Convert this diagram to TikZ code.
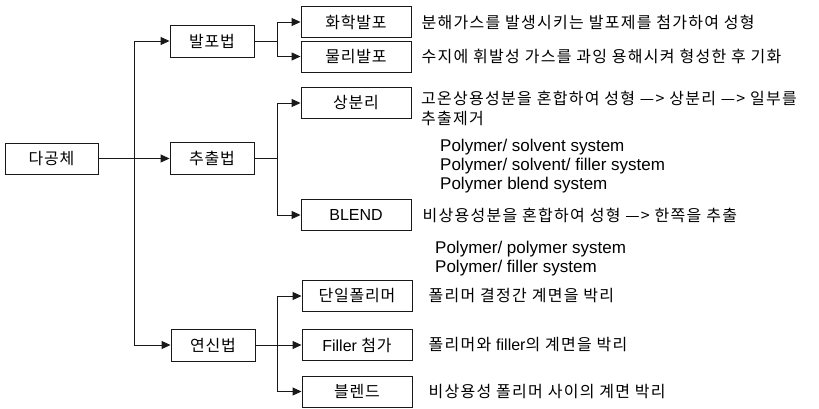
\documentclass[tikz,border=0pt]{standalone}
\usepackage{fontspec}
\setmainfont{Liberation Sans}
\newfontfamily\kr[LetterSpace=5]{Noto Sans CJK KR}
\newfontfamily\krwide[LetterSpace=8]{Noto Sans CJK KR}
\usepackage{tikz}
\usetikzlibrary{arrows.meta, positioning}
\definecolor{myink}{RGB}{25,25,25}
\tikzset{
  box/.style={rectangle, draw=myink, fill=white, minimum height=31pt,
    inner sep=0pt, line width=0.9pt, font=\fontsize{16}{18}\selectfont},
  rootbox/.style={box, minimum width=93pt},
  methodbox/.style={box, minimum width=84pt, minimum height=32pt},
  leafbox/.style={box, minimum width=110pt},
  desc/.style={anchor=west, inner sep=0pt, align=left,
    font=\krwide\fontsize{16}{20}\selectfont},
  syslist/.style={anchor=north west, inner sep=0pt, align=left,
    font=\fontsize{17}{19}\selectfont},
  arrow/.style={-{Triangle[length=9pt,width=8pt]}, line width=1pt, color=myink}
}
\begin{document}
\begin{tikzpicture}[x=1pt, y=-1pt]
  \useasboundingbox (0,0) rectangle (819,408);

  % root and methods
  \node[rootbox] (poly) at (51.5,158.5) {\kr 다공체};
  \node[methodbox] (foam) at (212,41) {\kr 발포법};
  \node[methodbox] (extr) at (212,158.5) {\kr 추출법};
  \node[methodbox] (stretch) at (213,345) {\kr 연신법};

  \coordinate (split) at (134,0);
  \coordinate (branch) at (277,0);

  % leaves
  \node[leafbox] (chem) at (356,22) {\kr 화학발포};
  \node[leafbox] (phys) at (356,56.5) {\kr 물리발포};
  \node[leafbox] (phase) at (356,103) {\kr 상분리};
  \node[leafbox] (blend) at (356,215) {BLEND};
  \node[leafbox] (single) at (357,296) {\kr 단일폴리머};
  \node[leafbox] (filler) at (357,345) {Filler {\kr 첨가}};
  \node[leafbox] (mix) at (357,391.5) {\kr 블렌드};

  % descriptions
  \node[desc, right=10pt of chem] (chemtxt) {분해가스를 발생시키는 발포제를 첨가하여 성형};
  \node[desc, right=10pt of phys] (phystxt) {수지에 휘발성 가스를 과잉 용해시켜 형성한 후 기화};
  \node[desc, anchor=north west] (phasetxt) at (421,91) {고온상용성분을 혼합하여 성형 —> 상분리 —> 일부를\\추출제거};
  \node[syslist] (phasesys) at (440,139) {Polymer/ solvent system\\Polymer/ solvent/ filler system\\Polymer blend system};
  \node[desc, right=11pt of blend] (blendtxt) {비상용성분을 혼합하여 성형 —> 한쪽을 추출};
  \node[syslist] (blendsys) at (435,241) {Polymer/ polymer system\\Polymer/ filler system};
  \node[desc, right=16pt of single] (singletxt) {폴리머 결정간 계면을 박리};
  \node[desc, right=16pt of filler] (fillertxt) {폴리머와 {\rmfamily filler}의 계면을 박리};
  \node[desc, right=16pt of mix] (mixtxt) {비상용성 폴리머 사이의 계면 박리};

  % connectors
  \draw[arrow] (poly.east) -- (poly.east -| split) |- (foam.west);
  \draw[arrow] (poly.east) -- (extr.west);
  \draw[arrow] (poly.east) -- (poly.east -| split) |- (stretch.west);

  \draw[arrow] (foam.east) -- (foam.east -| branch) |- (chem.west);
  \draw[arrow] (foam.east) -- (foam.east -| branch) |- (phys.west);
  \draw[arrow] (extr.east) -- (extr.east -| branch) |- (phase.west);
  \draw[arrow] (extr.east) -- (extr.east -| branch) |- (blend.west);
  \draw[arrow] (stretch.east) -- (stretch.east -| branch) |- (single.west);
  \draw[arrow] (stretch.east) -- (filler.west);
  \draw[arrow] (stretch.east) -- (stretch.east -| branch) |- (mix.west);
\end{tikzpicture}
\end{document}
